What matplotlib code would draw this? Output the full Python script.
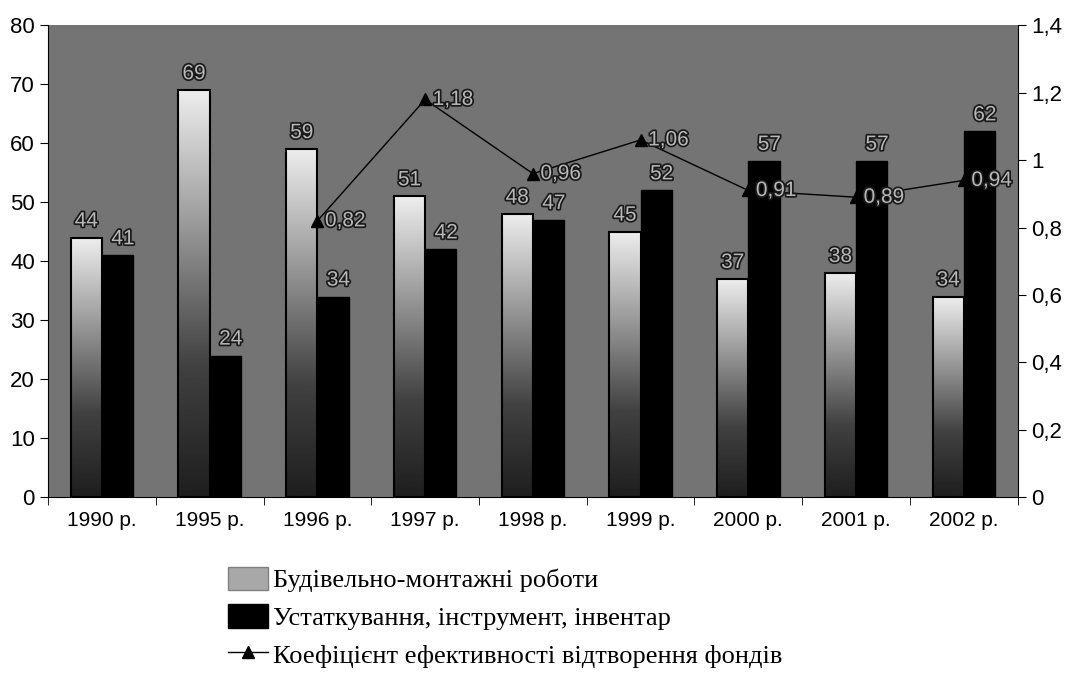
import numpy as np
import matplotlib
matplotlib.use("Agg")
import matplotlib.pyplot as plt
import matplotlib.patheffects as pe
from matplotlib.ticker import FuncFormatter, FixedLocator

years = ["1990 р.", "1995 р.", "1996 р.", "1997 р.", "1998 р.", "1999 р.", "2000 р.", "2001 р.", "2002 р."]
construction = [44, 69, 59, 51, 48, 45, 37, 38, 34]
equipment = [41, 24, 34, 42, 47, 52, 57, 57, 62]
coef_years = years[2:]
coef = [0.82, 1.18, 0.96, 1.06, 0.91, 0.89, 0.94]

labels = ["Будівельно-монтажні роботи",
          "Устаткування, інструмент, інвентар",
          "Коефіцієнт ефективності відтворення фондів"]

plt.rcParams['font.family'] = ['Liberation Sans', 'DejaVu Sans']

fig = plt.figure(figsize=(10.69, 6.84), dpi=100)
ax = fig.add_axes([0.045, 0.273, 0.907, 0.69])
ax.set_facecolor('#747474')

x = np.arange(len(years))
w = 0.29
b1 = ax.bar(x - w / 2, construction, w, color='#d0d0d0', edgecolor='black', linewidth=1.5, zorder=2)
b2 = ax.bar(x + w / 2, equipment, w, color='black', edgecolor='black', linewidth=1.0, zorder=2)

# vertical gradient inside the light bars: dark at the base, nearly white at the top
grad = np.concatenate([np.linspace(0.12, 0.25, 80), np.linspace(0.25, 0.93, 176)]).reshape(-1, 1)
for r in b1:
    bx, by = r.get_x(), r.get_y()
    bw, bh = r.get_width(), r.get_height()
    im = ax.imshow(grad, cmap='gray', vmin=0, vmax=1, aspect='auto', origin='lower',
                   extent=[bx, bx + bw, by, by + bh], zorder=2.5)
    im.set_clip_path(r)
    r.set_facecolor('none')
    r.set_zorder(3)

ax.set_xlim(-0.5, len(years) - 0.5)
ax.set_ylim(0, 80)
ax.set_yticks(range(0, 81, 10))
ax.set_xticks(x)
ax.set_xticklabels(years)
ax.xaxis.set_minor_locator(FixedLocator(np.arange(-0.5, len(years), 1)))
ax.tick_params(axis='x', which='major', length=0, labelsize=15, pad=10)
ax.tick_params(axis='x', which='minor', length=6, direction='out')
ax.tick_params(axis='y', length=6, direction='out', labelsize=16)
for s in ['top', 'right']:
    ax.spines[s].set_visible(False)

halo = [pe.withStroke(linewidth=2.5, foreground='#1a1a1a')]
for i, v in enumerate(construction):
    ax.text(x[i] - w / 2, v + 1.2, str(v), ha='center', va='bottom', fontsize=15,
            color='#b8b8b8', path_effects=halo, zorder=5)
for i, v in enumerate(equipment):
    ax.text(x[i] + w / 2 + 0.05, v + 1.2, str(v), ha='center', va='bottom', fontsize=15,
            color='#b8b8b8', path_effects=halo, zorder=5)

ax2 = ax.twinx()
ax2.set_ylim(0, 1.4)
ax2.set_yticks(np.arange(0, 1.41, 0.2))
ax2.yaxis.set_major_formatter(FuncFormatter(lambda v, p: ('%g' % round(v, 1)).replace('.', ',')))
ax2.tick_params(axis='y', length=6, direction='out', labelsize=16)
for s in ['top', 'left', 'bottom']:
    ax2.spines[s].set_visible(False)

cx = [years.index(y) for y in coef_years]
ax2.plot(cx, coef, color='black', linewidth=1.0, marker='^', markersize=8, zorder=6)
for xi, v in zip(cx, coef):
    ax2.text(xi + 0.07, v, ('%.2f' % v).replace('.', ','), ha='left', va='center', fontsize=15,
             color='#b8b8b8', path_effects=halo, zorder=7)

# legend below the chart
h1 = plt.Rectangle((0, 0), 1, 1, facecolor='#a8a8a8', edgecolor='#808080')
h2 = plt.Rectangle((0, 0), 1, 1, facecolor='black', edgecolor='black')
h3 = plt.Line2D([], [], color='black', marker='^', markersize=8, linewidth=1.0)
fig.legend([h1, h2, h3], labels, loc='upper left', bbox_to_anchor=(0.201, 0.191),
           frameon=False, prop={'family': 'Liberation Serif', 'size': 19},
           handlelength=1.5, handleheight=1.0, handletextpad=0.2, labelspacing=0.45, borderpad=0)

fig.savefig('out.png', dpi=100, facecolor='white')
